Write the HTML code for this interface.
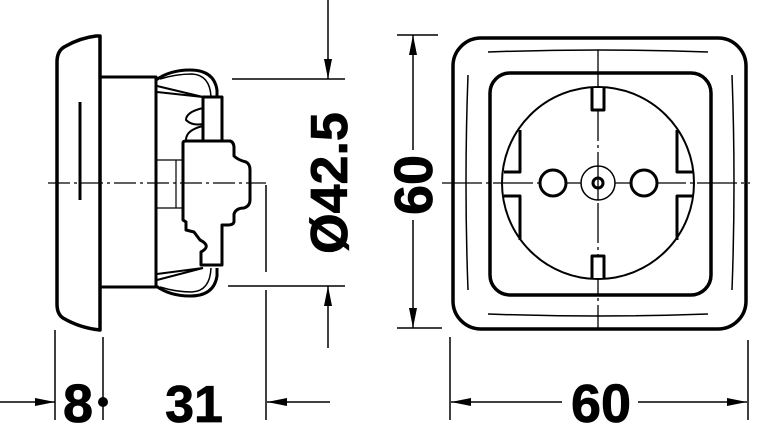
<!DOCTYPE html>
<html><head><style>
html,body{margin:0;padding:0;background:#fff;}
svg{display:block;}
text{font-family:"Liberation Sans",Arial,sans-serif;font-weight:bold;fill:#000;stroke:#000;stroke-width:0.8;}
</style></head><body>
<svg width="758" height="425" viewBox="0 0 758 425" xmlns="http://www.w3.org/2000/svg">
<defs>
<marker id="a" viewBox="0 0 20 8" refX="20" refY="4" markerWidth="20" markerHeight="8" markerUnits="userSpaceOnUse" orient="auto"><path d="M0,0 L20,4 L0,8 z" fill="#000"/></marker>
</defs>
<g fill="none" stroke="#000" stroke-linejoin="round">
<path d="M100,36 L100,330 Q80,328 63,318 Q57,314 57,304 L57,62 Q57,50 66,46 Q80,38 96,36 Z" stroke-width="3.5"/>
<line x1="80" y1="102" x2="80" y2="200" stroke-width="3"/>
<rect x="100" y="77" width="56" height="210" stroke-width="3"/>
<path d="M156,80 Q170,70 190,70 Q214,70 217,90 L217,97" stroke-width="3"/>
<path d="M160,79 Q176,74 192,74 Q210,75 211,97" stroke-width="1.5"/>
<path d="M157,86 L203,97 M157,92 L203,97" stroke-width="2"/>
<path d="M156,286 Q170,296 190,296 Q214,296 217,276 L217,268" stroke-width="3"/>
<path d="M160,287 Q176,292 192,292 Q210,291 211,268" stroke-width="1.5"/>
<path d="M157,280 L203,268 M157,274 L203,268" stroke-width="2"/>
<path d="M203,140 L203,97 L222,97 L222,140" stroke-width="3"/>
<path d="M203,108 Q186,112 186,120 Q192,126 203,124 M203,126 Q186,130 186,140" stroke-width="2"/>
<path d="M183,143 Q183,141 186,141 L230,141 Q234,142 234,148 L234,156 Q238,160 246,162 Q250,164 250,170 L250,200 Q250,206 244,208 Q236,208 234,214 L234,222 Q233,225 228,225 L222,225 L222,265 L201,265 L201,252 Q212,246 200,240 L194,232 L186,230 L186,222 L183,220 Z" stroke-width="3"/>
<path d="M156,160 L183,160 M156,208 L183,208 M176,160 L176,208" stroke-width="1.2"/>
<line x1="48" y1="183" x2="266" y2="183" stroke-width="1.3" stroke-dasharray="22,4,3,4"/>
<line x1="232" y1="79" x2="345" y2="79" stroke-width="1.5"/>
<line x1="228" y1="286" x2="345" y2="286" stroke-width="1.5"/>
<line x1="328" y1="0" x2="328" y2="79" stroke-width="1.5" marker-end="url(#a)"/>
<line x1="328" y1="348" x2="328" y2="286" stroke-width="1.5" marker-end="url(#a)"/>
<line x1="266" y1="185" x2="266" y2="272" stroke-width="1.5"/>
<line x1="266" y1="290" x2="266" y2="420" stroke-width="1.5"/>
<line x1="55" y1="330" x2="55" y2="420" stroke-width="1.5"/>
<line x1="103" y1="337" x2="103" y2="420" stroke-width="1.5"/>
<line x1="0" y1="402" x2="55" y2="402" stroke-width="1.5" marker-end="url(#a)"/>
<line x1="330" y1="402" x2="267" y2="402" stroke-width="1.5" marker-end="url(#a)"/>
<line x1="397" y1="35" x2="438" y2="35" stroke-width="1.5"/>
<line x1="397" y1="328" x2="442" y2="328" stroke-width="1.5"/>
<line x1="413" y1="150" x2="413" y2="35" stroke-width="1.5" marker-end="url(#a)"/>
<line x1="413" y1="220" x2="413" y2="328" stroke-width="1.5" marker-end="url(#a)"/>
<line x1="450" y1="337" x2="450" y2="420" stroke-width="1.5"/>
<line x1="748" y1="340" x2="748" y2="420" stroke-width="1.5"/>
<line x1="562" y1="402" x2="451" y2="402" stroke-width="1.5" marker-end="url(#a)"/>
<line x1="638" y1="402" x2="747" y2="402" stroke-width="1.5" marker-end="url(#a)"/>
<rect x="453" y="38" width="293" height="291" rx="28" stroke-width="3.5"/>
<path d="M488,52 Q598,48 708,52 M488,314 Q598,318 708,314 M468,75 Q464,183 468,290 M732,75 Q736,183 732,290" stroke-width="1.5"/>
<rect x="490" y="73" width="221" height="222" rx="20" stroke-width="3.5"/>
<circle cx="598" cy="183" r="96" stroke-width="2"/>
<line x1="598" y1="50" x2="598" y2="330" stroke-width="1.3" stroke-dasharray="40,4,3,4"/>
<line x1="442" y1="183" x2="750" y2="183" stroke-width="1.3" stroke-dasharray="40,4,3,4"/>
<circle cx="553" cy="183" r="13" stroke-width="3" fill="#fff"/>
<circle cx="644" cy="183" r="13" stroke-width="3" fill="#fff"/>
<circle cx="598" cy="183" r="17" stroke-width="1.5" fill="#fff"/>
<circle cx="598" cy="183" r="5" stroke-width="3"/>
<line x1="598" y1="166" x2="598" y2="200" stroke-width="1.3"/>
<path d="M592,88 L592,110 L604,110 L604,88" stroke-width="3" fill="#fff"/>
<path d="M592,278 L592,256 L604,256 L604,278" stroke-width="3" fill="#fff"/>
<path d="M520,130 L520,172 L504,172 M520,240 L520,196 L504,196" stroke-width="3"/>
<path d="M677,130 L677,172 L693,172 M677,240 L677,196 L693,196" stroke-width="3"/>
</g>
<circle cx="103" cy="402" r="5" fill="#000"/>
<text x="78" y="422" font-size="54" text-anchor="middle">8</text>
<text x="194" y="422" font-size="52" text-anchor="middle">31</text>
<text x="601" y="422" font-size="54" text-anchor="middle">60</text>
<text transform="translate(347,183) rotate(-90)" font-size="52" text-anchor="middle">Ø42.5</text>
<text transform="translate(432,185) rotate(-90)" font-size="54" text-anchor="middle">60</text>
</svg>
</body></html>
